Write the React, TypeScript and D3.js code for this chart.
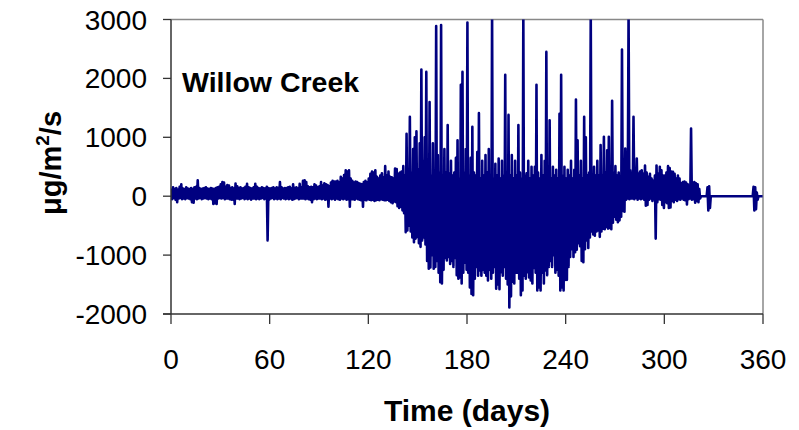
import React from 'react';
import * as d3 from 'd3';

// Daily upper / lower extent of the flux series (µg/m²/s), day 0..359
const dayHigh = [
  130,150,120,140,110,160,200,130,120,150,
  130,120,140,120,150,160,270,140,120,130,
  140,150,130,120,140,130,120,140,150,160,
  200,240,230,160,190,180,140,150,130,215,
  170,140,150,130,140,160,210,150,140,130,
  150,210,160,140,130,150,140,130,160,140,
  130,140,150,130,150,140,240,150,130,140,
  140,150,160,130,200,140,150,130,210,150,
  260,270,240,170,150,160,150,200,180,150,
  170,240,180,220,200,190,170,230,260,250,
  250,260,230,330,300,360,440,420,440,300,
  260,230,250,240,220,210,200,240,260,230,
  300,380,420,400,440,330,300,350,390,320,
  510,350,420,330,320,300,470,460,380,400,
  420,510,350,1060,380,1350,400,800,1000,1100,
  450,900,2150,600,1000,2110,400,1600,350,900,
  400,2890,700,400,2905,350,800,400,1210,380,
  600,350,400,650,950,300,1890,2110,400,800,
  2950,350,650,1180,400,350,750,1410,300,600,
  350,700,400,800,350,3100,300,550,350,640,
  300,600,350,2060,400,1380,350,700,300,600,
  350,1210,400,300,3100,350,390,600,300,500,
  350,500,1890,400,300,700,350,600,2450,350,
  1290,300,500,350,450,300,1400,2060,350,500,
  300,450,350,600,300,450,1640,950,350,600,
  300,1350,1000,350,400,3100,300,500,350,600,
  350,870,350,1010,400,780,1010,350,1620,400,
  510,350,400,300,2490,350,810,400,3100,440,
  400,1350,450,640,380,420,440,380,520,400,
  330,380,300,260,350,520,380,500,440,350,
  350,400,510,480,420,415,380,300,350,300,
  220,240,250,230,200,180,1150,230,240,220,
  200,120,0,0,0,0,150,170,0,0,
  0,0,0,0,0,0,0,0,0,0,
  0,0,0,0,0,0,0,0,0,0,
  0,0,0,0,160,150,60,0,0,0,
];

const dayLow = [
  -50,-30,-60,-100,-40,-30,-50,-40,-50,-30,
  -40,-50,-100,-110,-40,-50,-40,-30,-50,-40,
  -30,-40,-50,-40,-50,-130,-120,-130,-40,-30,
  -40,-30,-50,-40,-40,-50,-60,-60,-130,-40,
  -40,-50,-40,-30,-50,-40,-50,-40,-60,-40,
  -40,-50,-40,-50,-40,-30,-50,-40,-750,-60,
  -40,-30,-50,-40,-50,-40,-50,-30,-40,-50,
  -40,-50,-40,-60,-50,-40,-30,-50,-40,-40,
  -40,-50,-40,-50,-60,-100,-50,-40,-50,-40,
  -40,-50,-40,-60,-50,-180,-40,-50,-40,-60,
  -40,-50,-60,-40,-50,-40,-60,-50,-180,-50,
  -50,-60,-40,-50,-60,-70,-180,-60,-70,-50,
  -60,-70,-60,-80,-70,-60,-70,-50,-60,-70,
  -70,-60,-80,-100,-120,-90,-100,-170,-200,-180,
  -240,-290,-610,-580,-500,-600,-700,-780,-720,-690,
  -800,-860,-750,-700,-820,-1100,-1230,-1210,-1000,-1230,
  -1200,-1100,-1300,-1460,-1480,-1250,-1050,-1090,-1030,-1150,
  -1100,-1200,-1050,-1340,-1400,-1380,-1480,-1300,-1130,-1250,
  -1300,-1550,-1660,-1680,-1400,-1200,-1350,-1260,-1350,-1250,
  -1300,-1350,-1430,-1250,-1400,-1300,-1200,-1570,-1500,-1580,
  -1290,-1350,-1200,-1400,-1500,-1890,-1700,-1450,-1480,-1300,
  -1300,-1400,-1680,-1600,-1350,-1400,-1290,-1380,-1430,-1480,
  -1220,-1300,-1600,-1550,-1600,-1300,-1480,-1260,-1340,-1200,
  -1100,-1200,-1000,-1300,-1250,-1350,-1600,-1550,-1600,-1420,
  -1420,-1200,-1030,-900,-1030,-950,-910,-800,-850,-1100,
  -1120,-900,-750,-880,-700,-600,-650,-670,-600,-580,
  -690,-600,-550,-560,-520,-550,-540,-560,-450,-350,
  -400,-440,-410,-350,-250,-265,-60,-40,-50,-40,
  -40,-50,-30,-60,-40,-50,-40,-60,-160,-150,
  -60,-40,-80,-50,-720,-100,-50,-60,-150,-200,
  -100,-120,-200,-190,-80,-100,-60,-80,-50,-60,
  -40,-60,-70,-140,-50,-40,-60,-50,-110,-80,
  -100,-40,0,0,0,0,-240,-200,0,0,
  0,0,0,0,0,0,0,0,0,0,
  0,0,0,0,0,0,0,0,0,0,
  0,0,0,0,-240,-220,-60,0,0,0,
];

const xTicks = [0, 60, 120, 180, 240, 300, 360];
const yTicks = [-2000, -1000, 0, 1000, 2000, 3000];
const siteName = 'Willow Creek';
const xTitle = 'Time (days)';

const FONT = '"Liberation Sans", Arial, Helvetica, sans-serif';

export default function App() {
  const W = 799;
  const H = 430;
  const x = d3.scaleLinear().domain([0, 360]).range([171, 763]);
  const y = d3.scaleLinear().domain([-2000, 3000]).range([314, 19.5]);

  const pts: [number, number][] = [];
  dayHigh.forEach((h, i) => {
    pts.push([i + 0.25, h]);
    pts.push([i + 0.75, dayLow[i]]);
  });
  const line = d3
    .line<[number, number]>()
    .x((d) => x(d[0]))
    .y((d) => y(d[1]));

  const x0 = x(0);
  const x1 = x(360);
  const yTop = y(3000);
  const yBot = y(-2000);

  return (
    <svg
      width={W}
      height={H}
      viewBox={`0 0 ${W} ${H}`}
      style={{ position: 'absolute', left: 0, top: 0, background: '#fff' }}
      fontFamily={FONT}
    >
      <defs>
        <clipPath id="plotclip">
          <rect x={x0} y={yTop} width={x1 - x0} height={yBot - yTop} />
        </clipPath>
      </defs>
      <rect x={0} y={0} width={W} height={H} fill="#fff" />
      {/* plot frame top/right */}
      <line x1={x0} x2={x1} y1={yTop} y2={yTop} stroke="#888" strokeWidth={1.5} />
      <line x1={x1} x2={x1} y1={yTop} y2={yBot} stroke="#888" strokeWidth={1.5} />

      {/* data */}
      <g clipPath="url(#plotclip)">
        <path
          d={line(pts) || ''}
          fill="none"
          stroke="#000080"
          strokeWidth={2.6}
          strokeLinejoin="round"
        />
      </g>

      {/* y axis */}
      <line x1={x0} x2={x0} y1={yTop} y2={yBot} stroke="#333" strokeWidth={1.5} />
      {yTicks.map((t) => (
        <g key={t}>
          <line x1={x0 - 8} x2={x0} y1={y(t)} y2={y(t)} stroke="#333" strokeWidth={1.3} />
          <text
            x={147}
            y={y(t)}
            dy="0.36em"
            textAnchor="end"
            fontSize={28}
            fill="#000"
          >
            {t}
          </text>
        </g>
      ))}

      {/* x axis */}
      <line x1={x0 - 8} x2={x1} y1={yBot} y2={yBot} stroke="#333" strokeWidth={1.5} />
      {xTicks.map((t) => (
        <g key={t}>
          <line x1={x(t)} x2={x(t)} y1={yBot} y2={yBot + 10} stroke="#333" strokeWidth={1.3} />
          <text x={x(t)} y={369} textAnchor="middle" fontSize={28} fill="#000">
            {t}
          </text>
        </g>
      ))}

      {/* titles */}
      <text x={(x0 + x1) / 2} y={421} textAnchor="middle" fontSize={30} fontWeight="bold" fill="#000">
        {xTitle}
      </text>
      <text
        transform="translate(61,163) rotate(-90)"
        textAnchor="middle"
        fontSize={29}
        fontWeight="bold"
        fill="#000"
      >
        μg/m<tspan fontSize={19} dy={-12}>2</tspan>
        <tspan dy={12}>/s</tspan>
      </text>
      <text x={182} y={92} fontSize={28.5} fontWeight="bold" fill="#000">
        {siteName}
      </text>
    </svg>
  );
}
